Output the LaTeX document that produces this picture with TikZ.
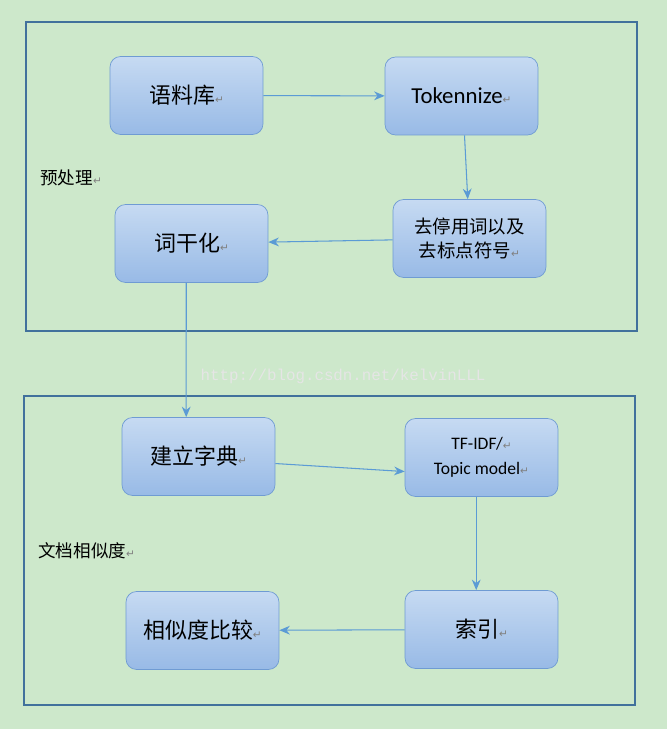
\documentclass[tikz,border=0pt]{standalone}
\usepackage{fontspec}
\setmainfont{Carlito}
\newfontfamily\cjk{Noto Sans CJK SC}
\newfontfamily\dv{DejaVu Sans}
\newfontfamily\mono{Liberation Mono}
\usetikzlibrary{arrows.meta, positioning}
\definecolor{bgreen}{HTML}{CDE8CB}
\definecolor{frameblue}{HTML}{41719C}
\definecolor{boxtop}{HTML}{C6DAF2}
\definecolor{boxbot}{HTML}{98BAE6}
\definecolor{boxline}{HTML}{6F9BD3}
\definecolor{arrowblue}{HTML}{5B9BD5}
\newcommand{\ret}{{\dv\fontsize{6}{6}\selectfont\color{gray}↵}}
\begin{document}
\begin{tikzpicture}[x=0.02cm, y=-0.02cm,
        every node/.style={inner sep=0pt},
        box/.style={rectangle, rounded corners=6pt, draw=boxline, top color=boxtop, bottom color=boxbot,
            minimum width=3.06cm, minimum height=1.56cm, align=center},
        frame/.style={draw=frameblue, line width=1.2pt},
        link/.style={draw=arrowblue, -{Stealth[length=6pt, width=5pt]}, line width=0.6pt},
        label/.style={font=\cjk\fontsize{10}{12}\selectfont, anchor=west}
    ]
        % Hintergrund
        \fill[bgreen] (0,0) rectangle (667,729);
        \useasboundingbox (0,0) rectangle (667,729);

        % Rahmen
        \draw[frame] (26,22) rectangle (637,331);
        \draw[frame] (24,396) rectangle (635,705);
        \node[label] (pre) at (40,178) {预处理\ret};
        \node[label] (sim) at (38,551) {文档相似度\ret};

        % Kaesten
        \node[box, font=\cjk\fontsize{12.5}{15}\selectfont] (corpus) at (186.5,95.5) {语料库\ret};
        \node[box, font=\fontsize{13}{15}\selectfont] (token) at (461.5,96) {Tokennize\ret};
        \node[box, font=\cjk\fontsize{10.5}{14}\selectfont] (stop) at (469.5,238.5) {去停用词以及\\去标点符号\ret};
        \node[box, font=\cjk\fontsize{12.5}{15}\selectfont] (stem) at (191.5,243.5) {词干化\ret};
        \node[box, font=\cjk\fontsize{12.5}{15}\selectfont] (dict) at (198.5,456.5) {建立字典\ret};
        \node[box, font=\fontsize{10}{14}\selectfont] (tfidf) at (481.5,457.5) {TF-IDF/\ret\\Topic model\ret};
        \node[box, font=\cjk\fontsize{12.5}{15}\selectfont] (index) at (481.5,629.5) {索引\ret};
        \node[box, font=\cjk\fontsize{12.5}{15}\selectfont] (comp) at (202.5,630.5) {相似度比较\ret};

        % Wasserzeichen
        \node[font=\mono\fontsize{9}{10}\selectfont, text=white!80!gray] (mark) at (343,376) {http://blog.csdn.net/kelvinLLL};

        % Pfeile
        \draw[link] (corpus) -- (token);
        \draw[link] (token.south) ++(3,0) -- ([xshift=-1pt]stop.north);
        \draw[link] (stop) -- (stem);
        \draw[link] ([xshift=-3pt]stem.south) -- ([xshift=-7pt]dict.north);
        \draw[link] ([yshift=-4pt]dict.east) -- ([yshift=-8pt]tfidf.east -| tfidf.west);
        \draw[link] ([xshift=-3pt]tfidf.south) -- ([xshift=-3pt]index.north);
        \draw[link] (index) -- (comp);
\end{tikzpicture}
\end{document}
